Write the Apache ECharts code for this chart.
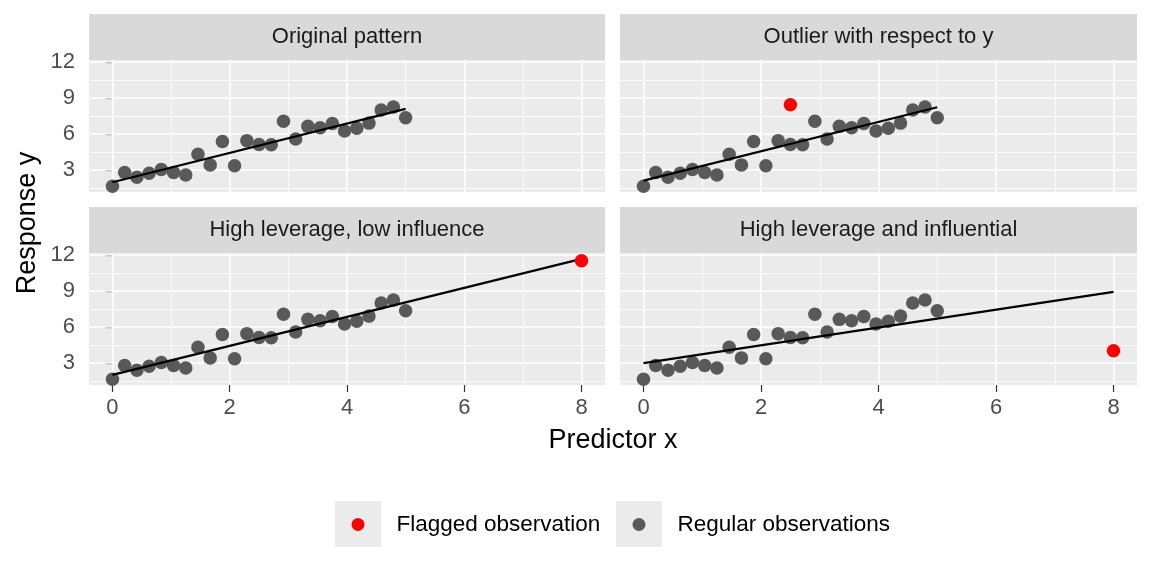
<!DOCTYPE html>
<html>
<head>
<meta charset="utf-8">
<script src="https://cdn.jsdelivr.net/npm/echarts@6/dist/echarts.min.js"></script>
<style>html,body{margin:0;padding:0;background:#fff}#c{width:1152px;height:576px}</style>
</head>
<body>
<div id="c"></div>
<script>
// ---- data ----
const panelTitles = ['Original pattern', 'Outlier with respect to y', 'High leverage, low influence', 'High leverage and influential'];
const xReg = [0, 0.208, 0.417, 0.625, 0.833, 1.042, 1.25, 1.458, 1.667, 1.875, 2.083, 2.292, 2.5, 2.708, 2.917, 3.125, 3.333, 3.542, 3.75, 3.958, 4.167, 4.375, 4.583, 4.792, 5.0];
const yReg = [1.63, 2.77, 2.38, 2.72, 3.02, 2.77, 2.56, 4.3, 3.41, 5.36, 3.33, 5.43, 5.1, 5.08, 7.05, 5.57, 6.62, 6.5, 6.85, 6.23, 6.47, 6.89, 7.98, 8.23, 7.34];
const flaggedX = [null, 2.5, 8, 8];
const flaggedY = [null, 8.42, 11.5, 4.0];
const xTicks = [0, 2, 4, 6, 8];
const xMinor = [1, 3, 5, 7];
const yTicks = [3, 6, 9, 12];
const yMinor = [1.5, 4.5, 7.5, 10.5];

// ---- layout ----
const FONT = 'Liberation Sans, Arial, sans-serif';
const lefts = [89, 620, 89, 620];
const widths = [516, 517, 516, 517];
const tops = [60, 60, 253, 253];
const H = 132;
const STRIP = 46;

function lm(xs, ys) {
  const n = xs.length;
  let mx = 0, my = 0;
  for (let i = 0; i < n; i++) { mx += xs[i]; my += ys[i]; }
  mx /= n; my /= n;
  let sxx = 0, sxy = 0;
  for (let i = 0; i < n; i++) { sxx += (xs[i] - mx) * (xs[i] - mx); sxy += (xs[i] - mx) * (ys[i] - my); }
  const b = sxy / sxx;
  return { a: my - b * mx, b: b };
}

const grids = [], xAxes = [], yAxes = [], series = [], graphics = [];
for (let p = 0; p < 4; p++) {
  grids.push({ left: lefts[p], top: tops[p], width: widths[p], height: H, show: true, backgroundColor: '#EBEBEB', borderWidth: 0 });
  const bottomRow = p >= 2, leftCol = p % 2 === 0;
  xAxes.push({
    type: 'value', gridIndex: p, min: -0.4, max: 8.4,
    axisLine: { show: false },
    splitLine: { show: false },
    axisTick: { show: bottomRow, length: 7, lineStyle: { color: '#333333', width: 1.2 }, customValues: xTicks },
    axisLabel: { show: bottomRow, customValues: xTicks, margin: 12, fontSize: 22, color: '#4D4D4D', fontFamily: FONT }
  });
  yAxes.push({
    type: 'value', gridIndex: p, min: 1.15, max: 12.15,
    axisLine: { show: false },
    splitLine: { show: false },
    axisTick: { show: leftCol, length: 7, lineStyle: { color: '#333333', width: 1.2 }, customValues: yTicks },
    axisLabel: { show: leftCol, customValues: yTicks, margin: 14, fontSize: 22, color: '#4D4D4D', fontFamily: FONT }
  });
  // grid lines
  const ml = [];
  yMinor.forEach(v => ml.push({ yAxis: v, lineStyle: { width: 0.8 } }));
  xMinor.forEach(v => ml.push({ xAxis: v, lineStyle: { width: 0.8 } }));
  yTicks.forEach(v => ml.push({ yAxis: v, lineStyle: { width: 1.6 } }));
  xTicks.forEach(v => ml.push({ xAxis: v, lineStyle: { width: 1.6 } }));
  series.push({
    type: 'line', xAxisIndex: p, yAxisIndex: p, data: [[0, 3]], showSymbol: false, silent: true, z: 1,
    lineStyle: { width: 0 },
    markLine: { silent: true, z: 1, symbol: 'none', label: { show: false }, animation: false,
      lineStyle: { color: '#FFFFFF', type: 'solid' }, data: ml }
  });
  // regular points
  series.push({
    name: 'Regular observations', type: 'scatter', xAxisIndex: p, yAxisIndex: p, z: 3,
    symbol: 'circle', symbolSize: 13.5, itemStyle: { color: '#595959', opacity: 1 },
    data: xReg.map((x, i) => [x, yReg[i]])
  });
  // fit line
  const xs = xReg.slice(), ys = yReg.slice();
  if (flaggedX[p] !== null) { xs.push(flaggedX[p]); ys.push(flaggedY[p]); }
  const f = lm(xs, ys);
  const x0 = Math.min.apply(null, xs), x1 = Math.max.apply(null, xs);
  series.push({
    type: 'line', xAxisIndex: p, yAxisIndex: p, z: 4, showSymbol: false, silent: true,
    lineStyle: { color: '#000000', width: 2.2 },
    data: [[x0, f.a + f.b * x0], [x1, f.a + f.b * x1]]
  });
  if (flaggedX[p] !== null) {
    series.push({
      name: 'Flagged observation', type: 'scatter', xAxisIndex: p, yAxisIndex: p, z: 5,
      symbol: 'circle', symbolSize: 13.5, itemStyle: { color: '#FF0000', opacity: 1 },
      data: [[flaggedX[p], flaggedY[p]]]
    });
  }
  // strip
  graphics.push({ type: 'rect', shape: { x: lefts[p], y: tops[p] - STRIP, width: widths[p], height: STRIP }, style: { fill: '#D9D9D9' }, silent: true });
  graphics.push({ type: 'text', x: lefts[p] + widths[p] / 2, y: tops[p] - STRIP / 2,
    style: { text: panelTitles[p], fill: '#1A1A1A', font: '22px ' + FONT, textAlign: 'center', textVerticalAlign: 'middle' }, silent: true });
}
// axis titles
graphics.push({ type: 'text', x: 613, y: 441, style: { text: 'Predictor x', fill: '#000', font: '27px ' + FONT, textAlign: 'center', textVerticalAlign: 'middle' } });
graphics.push({ type: 'text', x: 28, y: 223, rotation: Math.PI / 2, style: { text: 'Response y', fill: '#000', font: '27px ' + FONT, textAlign: 'center', textVerticalAlign: 'middle' } });
// legend key backgrounds
graphics.push({ type: 'rect', shape: { x: 335, y: 501, width: 46, height: 46 }, style: { fill: '#EBEBEB' }, z: 0 });
graphics.push({ type: 'rect', shape: { x: 616, y: 501, width: 46, height: 46 }, style: { fill: '#EBEBEB' }, z: 0 });

const legendBase = {
  orient: 'horizontal', padding: 0, itemWidth: 13, itemHeight: 13, icon: 'circle', top: 513,
  selectedMode: false,
  formatter: '{t|{name}}',
  textStyle: { fontSize: 22.5, color: '#000', fontFamily: FONT,
    rich: { t: { fontSize: 22.5, color: '#000', fontFamily: FONT, lineHeight: 28, padding: [0, 0, 0, 27] } } }
};

const chart = echarts.init(document.getElementById('c'), null, { renderer: 'canvas' });
chart.setOption({
  animation: false,
  backgroundColor: '#FFFFFF',
  grid: grids,
  xAxis: xAxes,
  yAxis: yAxes,
  legend: [
    Object.assign({}, legendBase, { left: 351.5, data: ['Flagged observation'] }),
    Object.assign({}, legendBase, { left: 632.5, data: ['Regular observations'] })
  ],
  graphic: { elements: graphics },
  series: series
});
</script>
</body>
</html>
